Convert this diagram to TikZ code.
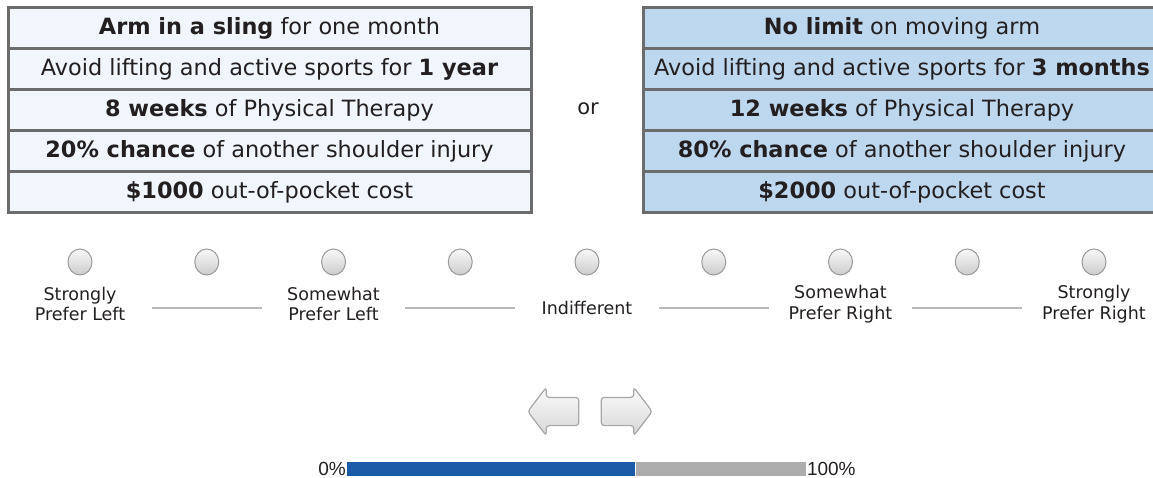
\documentclass[tikz,border=0pt]{standalone}
\usepackage{fontspec}
\setmainfont{DejaVu Sans}
\newfontfamily\pctfont{Liberation Sans}
\usetikzlibrary{positioning,shapes.geometric,shapes.arrows}
\definecolor{cellborder}{RGB}{108,108,108}
\definecolor{leftfill}{RGB}{240,246,252}
\definecolor{rightfill}{RGB}{189,215,238}
\definecolor{textdark}{RGB}{35,31,32}
\definecolor{barblue}{RGB}{26,90,166}
\definecolor{bargray}{RGB}{173,173,173}

\begin{document}
\begin{tikzpicture}[x=1pt, y=-1pt, on grid,
	cell/.style={draw=cellborder, line width=3pt, minimum height=41pt, inner sep=0pt, text=textdark, font=\fontsize{22.4}{26}\selectfont},
	leftcell/.style={cell, fill=leftfill, minimum width=523pt},
	rightcell/.style={cell, fill=rightfill, minimum width=518pt},
	radio/.style={ellipse, draw=gray!80, line width=1pt, top color=gray!5, bottom color=gray!40, minimum width=24pt, minimum height=26pt, inner sep=0pt},
	scalelabel/.style={align=center, inner sep=0pt, text=textdark, font=\fontsize{17.5}{20.5}\selectfont},
	sepline/.style={draw=gray!55, line width=1.2pt},
	navbtn/.style={single arrow, draw=gray!70, line width=1.2pt, top color=gray!3, bottom color=gray!32, rounded corners=3pt, minimum height=51pt, inner xsep=0pt, inner ysep=13.5pt, single arrow head extend=10pt, single arrow tip angle=105},
	bar/.style={minimum height=14pt, inner sep=0pt},
	pct/.style={inner sep=1pt, text=textdark, font=\pctfont\fontsize{19}{22}\selectfont}]
	\useasboundingbox (0,0) rectangle (1153,478);

	% left option
	\node[leftcell] (lefta) at (269.5,28.5) {\textbf{Arm in a sling} for one month};
	\node[leftcell] (leftb) [below=41pt of lefta] {Avoid lifting and active sports for \textbf{1 year}};
	\node[leftcell] (leftc) [below=41pt of leftb] {\textbf{8 weeks} of Physical Therapy};
	\node[leftcell] (leftd) [below=41pt of leftc] {\textbf{20\% chance} of another shoulder injury};
	\node[leftcell] (lefte) [below=41pt of leftd] {\textbf{\$1000} out-of-pocket cost};

	% right option
	\node[rightcell] (righta) at (902,28.5) {\textbf{No limit} on moving arm};
	\node[rightcell] (rightb) [below=41pt of righta] {Avoid lifting and active sports for \textbf{3 months}};
	\node[rightcell] (rightc) [below=41pt of rightb] {\textbf{12 weeks} of Physical Therapy};
	\node[rightcell] (rightd) [below=41pt of rightc] {\textbf{80\% chance} of another shoulder injury};
	\node[rightcell] (righte) [below=41pt of rightd] {\textbf{\$2000} out-of-pocket cost};

	\node[text=textdark, font=\fontsize{21}{24}\selectfont] (or) at (588,109) {or};

	% rating scale
	\node[radio] (btn1) at (80,262) {};
	\foreach \i [count=\j from 1] in {2,...,9}
		\node[radio] (btn\i) [right=126.75pt of btn\j] {};

	\node[scalelabel] (lab1) [below=42pt of btn1] {Strongly\\Prefer Left};
	\node[scalelabel] (lab3) [below=42pt of btn3] {Somewhat\\Prefer Left};
	\node[scalelabel] (lab5) [below=46pt of btn5] {Indifferent};
	\node[scalelabel] (lab7) [below=42pt of btn7] {Somewhat\\Prefer Right};
	\node[scalelabel] (lab9) [below=42pt of btn9] {Strongly\\Prefer Right};

	\foreach \k in {2,4,6,8}
		\draw[sepline] ([shift={(-55,46)}]btn\k.center) -- ([shift={(55,46)}]btn\k.center);

	% navigation
	\node[navbtn, shape border rotate=180, anchor=tip] (back) at (527,411.5) {};
	\node[navbtn, anchor=tip] (next) at (653,411.5) {};

	% progress
	\node[bar, fill=barblue, minimum width=288pt, anchor=west] (done) at (347,469) {};
	\node[bar, fill=bargray, minimum width=170pt, anchor=west] (todo) at (done.east) {};
	\node[pct, anchor=east] (start) at (done.west) {0\%};
	\node[pct, anchor=west] (finish) at (todo.east) {100\%};
\end{tikzpicture}
\end{document}
